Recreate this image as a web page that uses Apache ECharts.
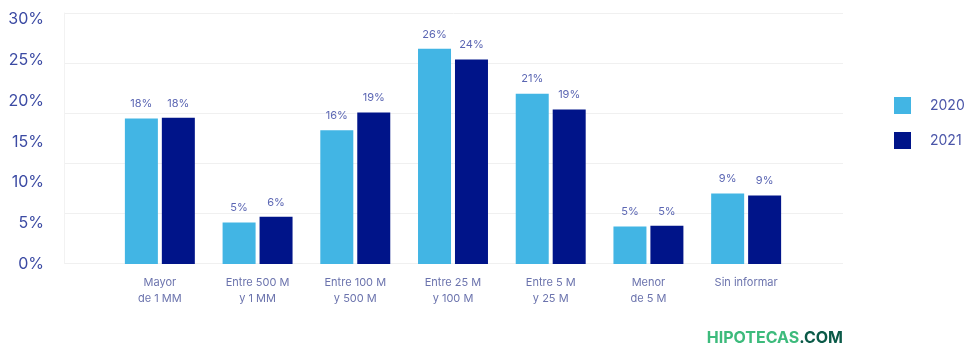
<!DOCTYPE html>
<html><head><meta charset="utf-8">
<script src="https://cdn.jsdelivr.net/npm/echarts@6/dist/echarts.min.js"></script>
<style>html,body{margin:0;padding:0;background:#fff}#c{width:968px;height:347px}</style>
</head><body><div id="c"></div>
<script>
const categories = ['Mayor\nde 1 MM','Entre 500 M\ny 1 MM','Entre 100 M\ny 500 M','Entre 25 M\ny 100 M','Entre 5 M\ny 25 M','Menor\nde 5 M','Sin informar'];
const seriesNames = ['2020','2021'];
const values2020 = [17.85, 5.1, 16.4, 26.4, 20.9, 4.6, 8.65];
const values2021 = [17.95, 5.8, 18.6, 25.1, 18.95, 4.7, 8.4];
const labels2020 = ['18%','5%','16%','26%','21%','5%','9%'];
const labels2021 = ['18%','6%','19%','24%','19%','5%','9%'];
const yTicks = [0,5,10,15,20,25,30];

const chart = echarts.init(document.getElementById('c'));
const font = 'Inter, "Noto Sans", sans-serif';
const mkLabel = (arr) => ({show:true, position:'top', distance:9, color:'#5b66b3', fontSize:11, fontFamily:font,
  formatter: p => arr[p.dataIndex]});
chart.setOption({
  animation:false,
  grid:[
    {left:64, right:125, top:13, bottom:83.5},
    {left:111, right:173, top:13, bottom:83}
  ],
  xAxis:[
    {gridIndex:0, type:'value', min:0, max:1, show:false},
    {gridIndex:1, type:'category', data:categories,
     axisLine:{show:false}, axisTick:{show:false},
     axisLabel:{color:'#6b73ad', fontSize:11, fontFamily:font, lineHeight:16, margin:11, interval:0}}
  ],
  yAxis:[
    {gridIndex:0, type:'value', min:0, max:5, interval:1,
     axisLine:{show:true, lineStyle:{color:'#f2f2f2'}}, axisTick:{show:false}, axisLabel:{show:false},
     splitLine:{show:true, lineStyle:{color:'#f0f0f0', width:1}}},
    {gridIndex:1, type:'value', min:0, max:30.8, interval:5,
     axisLine:{show:false}, axisTick:{show:false}, splitLine:{show:false},
     axisLabel:{margin:67, color:'#3b4aa3', fontSize:16, fontFamily:font, showMaxLabel:false,
       formatter: v => yTicks.includes(v) ? v + '%' : ''}}
  ],
  legend:{orient:'vertical', left:889, top:92, itemWidth:17, itemHeight:17, itemGap:18,
    icon:'rect', data:seriesNames,
    textStyle:{color:'#4a55a8', fontSize:14, fontFamily:font, padding:[0,0,0,14]}},
  series:[
    {name:seriesNames[0], type:'bar', xAxisIndex:1, yAxisIndex:1, data:values2020,
     barWidth:33, barGap:'12%', itemStyle:{color:'#42b5e4'}, label:mkLabel(labels2020)},
    {name:seriesNames[1], type:'bar', xAxisIndex:1, yAxisIndex:1, data:values2021,
     barWidth:33, itemStyle:{color:'#001489'}, label:mkLabel(labels2021)}
  ],
  graphic:[{type:'text', right:125, top:330,
    style:{text:'{a|HIPOTECAS}{b|.COM}', rich:{
      a:{fill:'#3dbb7c', fontSize:16, fontWeight:'bold', fontFamily:font},
      b:{fill:'#0b5a48', fontSize:16, fontWeight:'bold', fontFamily:font}}}}]
});
</script></body></html>
